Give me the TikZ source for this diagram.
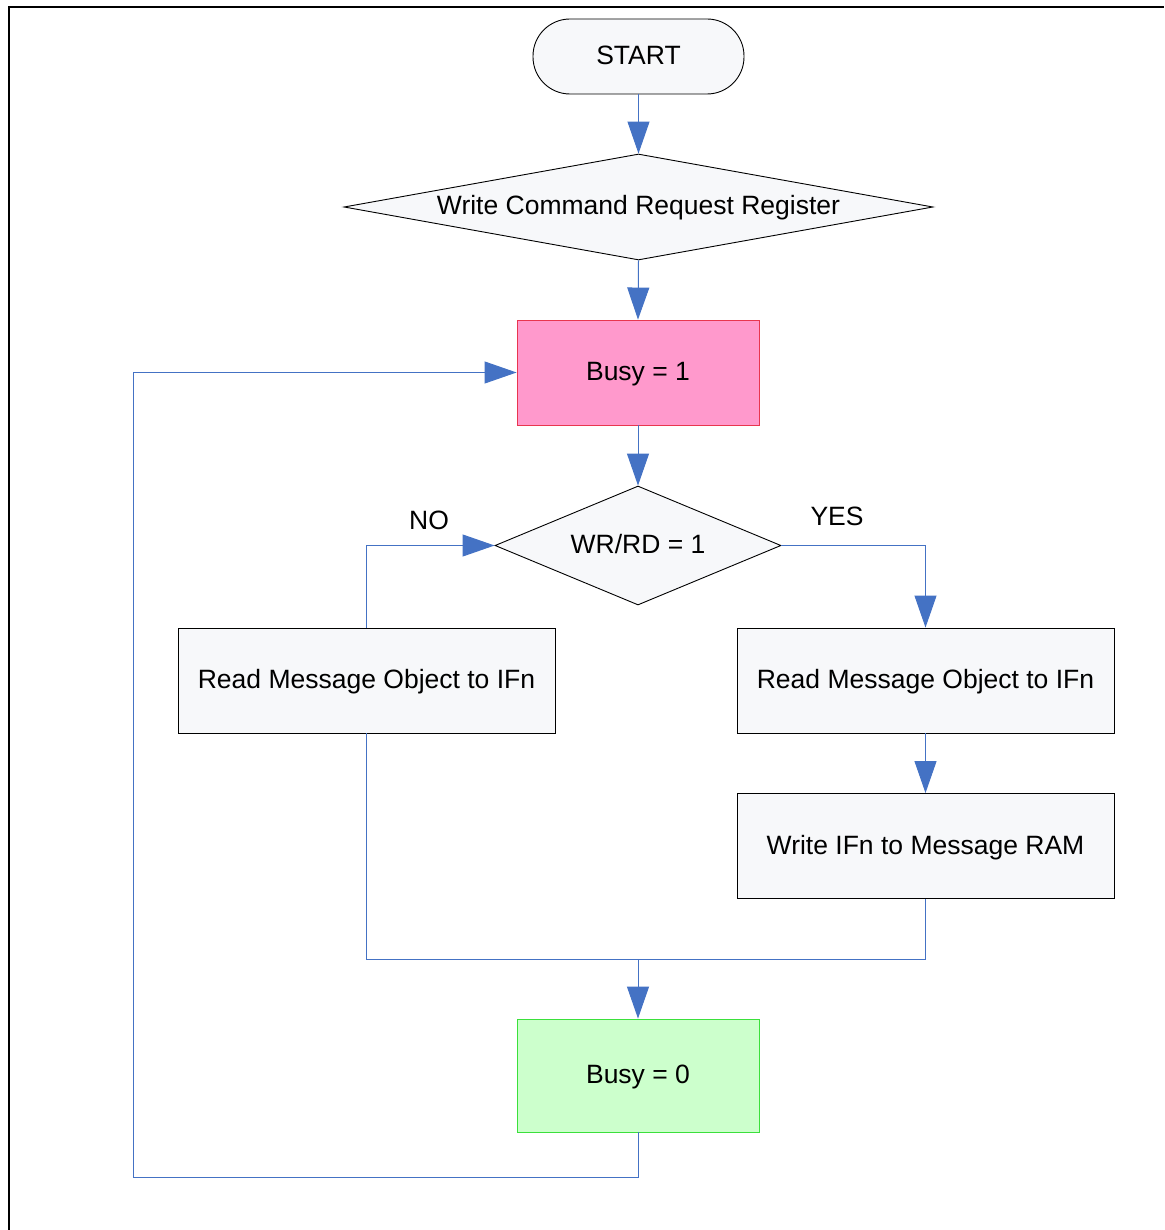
\documentclass[tikz,border=0pt]{standalone}
\usepackage{fontspec}
\setmainfont{Liberation Sans}
\usetikzlibrary{shapes.geometric,arrows.meta}
\definecolor{conn}{HTML}{4472C4}
\definecolor{boxfill}{HTML}{F7F8FA}
\definecolor{pinkfill}{HTML}{FF99CC}
\definecolor{pinkline}{HTML}{E8364F}
\definecolor{greenfill}{HTML}{CCFFCC}
\definecolor{greenline}{HTML}{3BE03B}
\tikzset{
  base/.style={font=\fontsize{26.5}{30}\selectfont, inner sep=0pt, text height=19pt, text depth=3pt, line width=0.9pt},
  procbox/.style={base, draw=black, fill=boxfill, rectangle, minimum width=377pt, minimum height=105pt},
  busybox/.style={base, rectangle, minimum width=242pt, minimum height=105pt},
  decision/.style={base, draw=black, fill=boxfill, diamond},
  conn/.style={draw=conn, line width=1pt},
  arr/.style={conn, -{Triangle[length=32pt,width=22pt]}},
  lbl/.style={font=\fontsize{26.5}{30}\selectfont, inner sep=0pt}
}
\begin{document}
\begin{tikzpicture}[x=1pt,y=-1pt]
\useasboundingbox (0,0) rectangle (1164,1230);
\fill[white] (0,0) rectangle (1164,1230);
\draw[line width=1.6pt, black] (9,1230) -- (9,7) -- (1164,7);

\node[base, draw=black, fill=boxfill, rectangle, rounded corners=37pt, minimum width=211pt, minimum height=75pt] (start) at (638.5,56.5) {START};
\node[decision, minimum width=589pt, minimum height=106pt, aspect=5.56] (wcr) at (638.5,207) {Write Command Request Register};
\node[busybox, draw=pinkline, fill=pinkfill] (busy1) at (638,372.5) {Busy = 1};
\node[decision, minimum width=286pt, minimum height=119pt, aspect=2.4] (wrrd) at (638,545.5) {WR/RD = 1};
\node[procbox] (readL) at (366.5,680.5) {Read Message Object to IFn};
\node[procbox] (readR) at (925.5,680.5) {Read Message Object to IFn};
\node[procbox] (writeR) at (925.5,846) {Write IFn to Message RAM};
\node[busybox, draw=greenline, fill=greenfill, minimum height=113pt] (busy0) at (638,1075.5) {Busy = 0};

\node[lbl] (no) at (429,520) {NO};
\node[lbl] (yes) at (837,516) {YES};

\coordinate (merge) at (638,959);
\coordinate (loopA) at (638,1177);
\coordinate (loopB) at (133,1177);
\coordinate (loopC) at (133,372.5);

\draw[arr] (start.south) -- (wcr.north);
\draw[arr] (wcr.south) -- (busy1.north);
\draw[arr] (busy1.south) -- (wrrd.north);
\draw[arr] (readL.north) |- (wrrd.west);
\draw[arr] (wrrd.east) -| (readR.north);
\draw[arr] (readR.south) -- (writeR.north);
\draw[conn] (readL.south) |- (merge);
\draw[conn] (writeR.south) |- (merge);
\draw[arr] (merge) -- (busy0.north);
\draw[conn] (busy0.south) -- (loopA) -- (loopB) -- (loopC);
\draw[arr] (loopC) -- (busy1.west);
\end{tikzpicture}
\end{document}
